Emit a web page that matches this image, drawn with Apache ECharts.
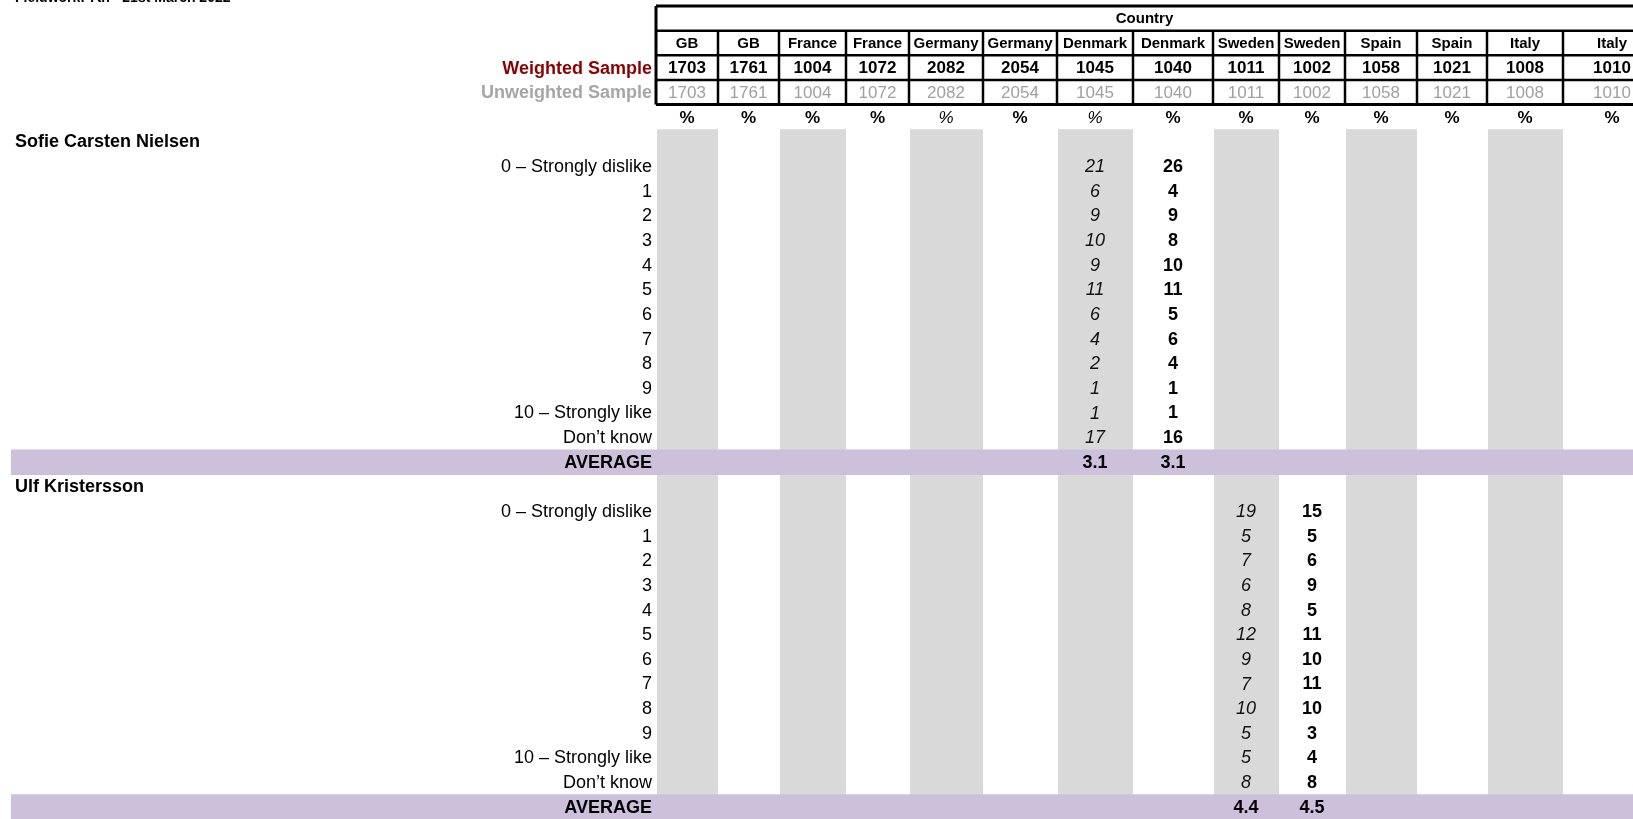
<!DOCTYPE html>
<html><head><meta charset="utf-8">
<script src="https://cdn.jsdelivr.net/npm/echarts@6/dist/echarts.min.js"></script>
<style>html,body{margin:0;padding:0;background:#fff}#c{width:1633px;height:819px}</style>
</head><body><div id="c"></div>
<script>
// ---------- data ----------
const titleText = 'Fieldwork: 7th - 21st March 2022';
const headerGroup = 'Country';
const countries = ['GB','GB','France','France','Germany','Germany','Denmark','Denmark','Sweden','Sweden','Spain','Spain','Italy','Italy'];
const weightedSample = [1703,1761,1004,1072,2082,2054,1045,1040,1011,1002,1058,1021,1008,1010];
const unweightedSample = [1703,1761,1004,1072,2082,2054,1045,1040,1011,1002,1058,1021,1008,1010];
const scaleLabels = ['0 – Strongly dislike','1','2','3','4','5','6','7','8','9','10 – Strongly like','Don’t know'];
const politicians = ['Sofie Carsten Nielsen','Ulf Kristersson'];
const nielsenDenmarkA = [21,6,9,10,9,11,6,4,2,1,1,17];
const nielsenDenmarkB = [26,4,9,8,10,11,5,6,4,1,1,16];
const nielsenAverages = [3.1,3.1];
const kristerssonSwedenA = [19,5,7,6,8,12,9,7,10,5,5,8];
const kristerssonSwedenB = [15,5,6,9,5,11,10,11,10,3,4,8];
const kristerssonAverages = [4.4,4.5];
const averageLabel = 'AVERAGE';
const weightedLabel = 'Weighted Sample';
const unweightedLabel = 'Unweighted Sample';

// ---------- layout / style ----------
const FF = '"Liberation Sans", Arial, sans-serif';
const TABLE_LEFT = 656;
const colWidths = [62,61,67,63,74,74,76,80,66,66,72,70,76,98];
const LABEL_RIGHT = 652;
const NAME_LEFT = 15;
const BAND_LEFT = 11;
const X_MAX = 1633;
const ROW_COUNT = 33;
const shadedCols = [0,2,4,6,8,10,12];
const italicPctCols = [4,6];
const colEdges = [TABLE_LEFT];
colWidths.forEach(w => colEdges.push(colEdges[colEdges.length-1] + w));
const colCenter = i => (colEdges[i] + colEdges[i+1]) / 2;
const TABLE_VISIBLE_CENTER = (TABLE_LEFT + X_MAX) / 2;

const styles = {
  group:    {font: 'bold 15px ' + FF, fill: '#000'},
  head:     {font: 'bold 15px ' + FF, fill: '#000'},
  wLabel:   {font: 'bold 18px ' + FF, fill: '#8B0000'},
  wNum:     {font: 'bold 17px ' + FF, fill: '#000'},
  uLabel:   {font: 'bold 18px ' + FF, fill: '#A6A6A6'},
  uNum:     {font: '17px ' + FF, fill: '#A0A0A0'},
  pct:      {font: 'bold 17px ' + FF, fill: '#000'},
  pctIt:    {font: 'italic 17px ' + FF, fill: '#000'},
  name:     {font: 'bold 18px ' + FF, fill: '#000'},
  row:      {font: '18px ' + FF, fill: '#000'},
  valIt:    {font: 'italic 18px ' + FF, fill: '#111'},
  valBold:  {font: 'bold 18px ' + FF, fill: '#000'},
  avgLabel: {font: 'bold 18px ' + FF, fill: '#000'},
  avg:      {font: 'bold 18px ' + FF, fill: '#000'}
};

const blocks = [
  {name: politicians[0], cols: [6,7], a: nielsenDenmarkA, b: nielsenDenmarkB, avg: nielsenAverages},
  {name: politicians[1], cols: [8,9], a: kristerssonSwedenA, b: kristerssonSwedenB, avg: kristerssonAverages}
];

// ---------- build text cells ----------
const textItems = [];
function addText(x, row, text, style, align) {
  textItems.push({value: [x, row], text: String(text), style: style, align: align});
}
addText(TABLE_VISIBLE_CENTER, 0, headerGroup, 'group', 'center');
countries.forEach((c, i) => addText(colCenter(i), 1, c, 'head', 'center'));
addText(LABEL_RIGHT, 2, weightedLabel, 'wLabel', 'right');
weightedSample.forEach((v, i) => addText(colCenter(i), 2, v, 'wNum', 'center'));
addText(LABEL_RIGHT, 3, unweightedLabel, 'uLabel', 'right');
unweightedSample.forEach((v, i) => addText(colCenter(i), 3, v, 'uNum', 'center'));
countries.forEach((c, i) => addText(colCenter(i), 4, '%', italicPctCols.includes(i) ? 'pctIt' : 'pct', 'center'));
const averageRows = [];
blocks.forEach((b, bi) => {
  const base = 5 + bi * 14;
  addText(NAME_LEFT, base, b.name, 'name', 'left');
  scaleLabels.forEach((l, k) => addText(LABEL_RIGHT, base + 1 + k, l, 'row', 'right'));
  b.a.forEach((v, k) => addText(colCenter(b.cols[0]), base + 1 + k, v, 'valIt', 'center'));
  b.b.forEach((v, k) => addText(colCenter(b.cols[1]), base + 1 + k, v, 'valBold', 'center'));
  const ar = base + 1 + scaleLabels.length;
  averageRows.push(ar);
  addText(LABEL_RIGHT, ar, averageLabel, 'avgLabel', 'right');
  b.avg.forEach((v, j) => addText(colCenter(b.cols[j]), ar, v.toFixed(1), 'avg', 'center'));
});

// header border segments: [x0, boundary0, x1, boundary1, width]; boundary k = top of row k
const borderSegs = [
  [TABLE_LEFT, 0, X_MAX + 40, 0, 3],
  [TABLE_LEFT, 1, X_MAX + 40, 1, 2.5],
  [TABLE_LEFT, 2, X_MAX + 40, 2, 2.5],
  [TABLE_LEFT, 3, X_MAX + 40, 3, 2.5],
  [TABLE_LEFT, 4, X_MAX + 40, 4, 3],
  [TABLE_LEFT, 0, TABLE_LEFT, 4, 3]
];
for (let i = 1; i < colEdges.length - 1; i++) borderSegs.push([colEdges[i], 1, colEdges[i], 4, 2.5]);

const rowIds = Array.from({length: ROW_COUNT}, (_, i) => 'r' + i);

function bandTop(api, row) {
  const h = api.size([0, 1])[1];
  return api.coord([0, row])[1] - h / 2;
}
function boundaryY(api, b) {
  const h = api.size([0, 1])[1];
  return api.coord([0, 0])[1] - h / 2 + b * h;
}

const chart = echarts.init(document.getElementById('c'), null, {renderer: 'canvas'});
chart.setOption({
  animation: false,
  backgroundColor: '#fff',
  graphic: [{
    type: 'text', left: 15, top: -9, z: 10,
    style: {text: titleText, font: 'bold 14px ' + FF, fill: '#000'}
  }],
  grid: {left: 0, right: 0, top: 6, bottom: 0, containLabel: false},
  xAxis: {type: 'value', min: 0, max: X_MAX, show: false},
  yAxis: {type: 'category', data: rowIds, inverse: true, show: false, boundaryGap: true},
  series: [
    {
      type: 'custom', name: 'shade', z: 1, silent: true,
      data: shadedCols.map(c => [c]),
      renderItem: (params, api) => {
        const c = api.value(0);
        const x0 = api.coord([colEdges[c] + 1, 5])[0];
        const x1 = api.coord([colEdges[c + 1], 5])[0];
        const h = api.size([0, 1])[1];
        const y0 = bandTop(api, 5);
        const y1 = bandTop(api, ROW_COUNT - 1) + h + 2;
        return {type: 'rect', shape: {x: x0, y: y0, width: x1 - x0, height: y1 - y0}, style: {fill: '#D9D9D9'}};
      }
    },
    {
      type: 'custom', name: 'average band', z: 2, silent: true,
      data: averageRows.map(r => [r]),
      renderItem: (params, api) => {
        const r = api.value(0);
        const x0 = api.coord([BAND_LEFT, r])[0];
        const x1 = api.coord([X_MAX, r])[0];
        const h = api.size([0, 1])[1];
        const y0 = bandTop(api, r);
        return {type: 'rect', shape: {x: x0, y: y0, width: x1 - x0, height: h + 1}, style: {fill: '#CCC0DA'}};
      }
    },
    {
      type: 'custom', name: 'borders', z: 3, silent: true,
      data: borderSegs,
      renderItem: (params, api) => {
        const s = borderSegs[params.dataIndex];
        const x0 = api.coord([s[0], 0])[0];
        const x1 = api.coord([s[2], 0])[0];
        const y0 = boundaryY(api, s[1]);
        const y1 = boundaryY(api, s[3]);
        return {type: 'line', shape: {x1: x0, y1: y0, x2: x1, y2: y1}, style: {stroke: '#000', lineWidth: s[4]}};
      }
    },
    {
      type: 'custom', name: 'cells', z: 4, silent: true,
      data: textItems.map(t => t.value),
      renderItem: (params, api) => {
        const t = textItems[params.dataIndex];
        const p = api.coord([api.value(0), api.value(1)]);
        const st = styles[t.style];
        return {type: 'text', x: p[0], y: p[1] + 1,
          style: {text: t.text, font: st.font, fill: st.fill, align: t.align, verticalAlign: 'middle'}};
      }
    }
  ]
});
</script>
</body></html>
